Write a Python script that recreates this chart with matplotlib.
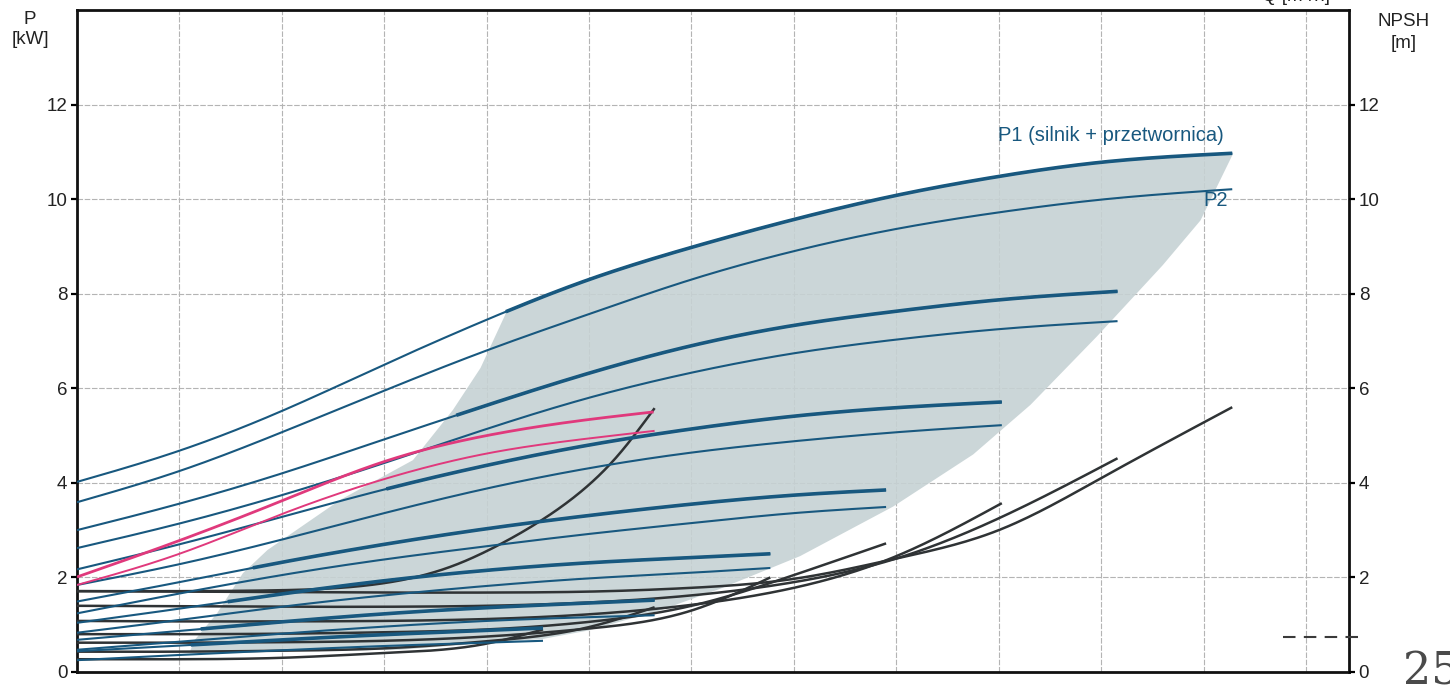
import numpy as np
import matplotlib
matplotlib.use("Agg")
import matplotlib.pyplot as plt
from matplotlib.patches import Polygon

plt.rcParams['font.family'] = ['Liberation Sans', 'DejaVu Sans']

# ---- power curves P1 / P2 [kW] for each speed step (flow in grid units) ----
q_p1_100 = [0, 1, 2, 3, 4, 5, 6, 7, 8, 9, 10, 11.28]
p1_100 = [4.02, 4.68, 5.52, 6.5, 7.45, 8.3, 8.98, 9.57, 10.08, 10.48, 10.78, 10.97]
q_p2_100 = [0, 1, 2, 3, 4, 5, 6, 7, 8, 9, 10, 11.28]
p2_100 = [3.59, 4.25, 5.07, 5.95, 6.8, 7.57, 8.3, 8.9, 9.37, 9.72, 9.99, 10.21]

q_p1_90 = [0, 1, 2, 3, 4, 5, 6, 7, 8, 9, 10.16]
p1_90 = [3.0, 3.56, 4.2, 4.92, 5.64, 6.32, 6.9, 7.33, 7.63, 7.87, 8.05]
q_p2_90 = [0, 1, 2, 3, 4, 5, 6, 7, 8, 9, 10.16]
p2_90 = [2.62, 3.14, 3.74, 4.42, 5.14, 5.8, 6.33, 6.74, 7.03, 7.25, 7.42]

q_p1_80 = [0, 1, 2, 3, 4, 5, 6, 7, 8, 9.03]
p1_80 = [2.17, 2.7, 3.28, 3.86, 4.37, 4.8, 5.14, 5.41, 5.59, 5.71]
q_p2_80 = [0, 1, 2, 3, 4, 5, 6, 7, 8, 9.03]
p2_80 = [1.84, 2.28, 2.8, 3.36, 3.88, 4.31, 4.64, 4.88, 5.07, 5.22]

q_p1_70 = [0, 1, 2, 3, 4, 5, 6, 7, 7.9]
p1_70 = [1.49, 1.9, 2.32, 2.7, 3.03, 3.31, 3.55, 3.74, 3.85]
q_p2_70 = [0, 1, 2, 3, 4, 5, 6, 7, 7.9]
p2_70 = [1.24, 1.66, 2.05, 2.38, 2.66, 2.92, 3.15, 3.36, 3.49]

q_p1_60 = [0, 1, 2, 3, 4, 5, 6, 6.77]
p1_60 = [1.04, 1.34, 1.65, 1.93, 2.15, 2.31, 2.42, 2.5]
q_p2_60 = [0, 1, 2, 3, 4, 5, 6, 6.77]
p2_60 = [0.83, 1.1, 1.38, 1.62, 1.82, 1.98, 2.1, 2.2]

q_p1_50 = [0, 1, 2, 3, 4, 5, 5.64]
p1_50 = [0.68, 0.87, 1.06, 1.23, 1.36, 1.46, 1.52]
q_p2_50 = [0, 1, 2, 3, 4, 5, 5.64]
p2_50 = [0.47, 0.64, 0.81, 0.96, 1.08, 1.16, 1.2]

q_p1_40 = [0, 1, 2, 3, 4, 4.55]
p1_40 = [0.44, 0.56, 0.68, 0.79, 0.88, 0.93]
q_p2_40 = [0, 1, 2, 3, 4, 4.55]
p2_40 = [0.25, 0.36, 0.46, 0.55, 0.62, 0.66]

# ---- reduced impeller (pink) ----
q_pink_p1 = [0, 1, 2, 3, 4, 5, 5.63]
pink_p1 = [2.01, 2.78, 3.62, 4.45, 5.0, 5.34, 5.5]
q_pink_p2 = [0, 1, 2, 3, 4, 5, 5.64]
pink_p2 = [1.84, 2.5, 3.34, 4.08, 4.62, 4.94, 5.1]

# ---- NPSH curves [m] ----
q_n_100 = [0, 1, 2, 3, 4, 5, 6, 7, 8, 9, 10, 11.28]
n_100 = [1.71, 1.70, 1.69, 1.68, 1.68, 1.7, 1.78, 1.97, 2.4, 3.0, 4.1, 5.6]
q_n_90 = [0, 1, 2, 3, 4, 5, 6, 7, 8, 9, 10.16]
n_90 = [1.40, 1.39, 1.38, 1.38, 1.4, 1.47, 1.62, 1.9, 2.4, 3.25, 4.52]
q_n_80 = [0, 1, 2, 3, 4, 5, 6, 7, 8, 9.03]
n_80 = [1.08, 1.07, 1.07, 1.08, 1.12, 1.22, 1.42, 1.78, 2.45, 3.57]
q_n_70 = [0, 1, 2, 3, 4, 5, 6, 7, 7.9]
n_70 = [0.80, 0.80, 0.81, 0.84, 0.9, 1.06, 1.4, 2.05, 2.72]
q_n_60 = [0, 1, 2, 3, 4, 5, 6, 6.77]
n_60 = [0.62, 0.62, 0.63, 0.66, 0.75, 0.92, 1.3, 2.0]
q_n_50 = [0, 1, 2, 3, 4, 5, 5.64]
n_50 = [0.43, 0.43, 0.45, 0.5, 0.65, 0.95, 1.37]
q_n_40 = [0, 1, 2, 3, 4, 4.55]
n_40 = [0.27, 0.27, 0.3, 0.4, 0.6, 0.9]
q_n_pink = [0, 1, 2, 2.5, 3, 3.64, 4.13, 4.62, 4.94, 5.27, 5.64]
n_pink = [1.71, 1.71, 1.73, 1.77, 1.88, 2.22, 2.7, 3.33, 3.85, 4.55, 5.58]

# ---- operating range: lower edge (right to left), then left edge (bottom to top) ----
q_range = [11.29, 10.97, 10.6, 9.96, 9.31, 8.75, 7.97, 7.06, 6.28, 5.69, 5.0, 4.55, 3.15,
           1.10, 1.15, 1.37, 1.62, 1.86, 2.57, 3.28, 3.67, 3.94, 4.18]
p_range = [10.97, 9.55, 8.6, 7.1, 5.65, 4.6, 3.5, 2.45, 1.76, 1.3, 0.88, 0.7, 0.47,
           0.42, 0.68, 1.25, 2.09, 2.58, 3.64, 4.48, 5.54, 6.43, 7.55]

# ---- stray dashed mark at the right edge ----
q_dash = [11.78, 12.52]
v_dash = [0.74, 0.74]

y_ticks = [0, 2, 4, 6, 8, 10, 12]


def spline(q, v, n=300):
    """Natural cubic spline through the read points."""
    q = np.asarray(q, float)
    v = np.asarray(v, float)
    k = len(q)
    h = np.diff(q)
    A = np.zeros((k, k))
    b = np.zeros(k)
    A[0, 0] = A[-1, -1] = 1.0
    for i in range(1, k - 1):
        A[i, i - 1] = h[i - 1]
        A[i, i] = 2 * (h[i - 1] + h[i])
        A[i, i + 1] = h[i]
        b[i] = 6 * ((v[i + 1] - v[i]) / h[i] - (v[i] - v[i - 1]) / h[i - 1])
    M = np.linalg.solve(A, b)
    x = np.linspace(q[0], q[-1], n)
    i = np.clip(np.searchsorted(q, x, side='right') - 1, 0, k - 2)
    hi = h[i]
    a = q[i + 1] - x
    c = x - q[i]
    y = (M[i] * a**3 + M[i + 1] * c**3) / (6 * hi) \
        + (v[i] / hi - M[i] * hi / 6) * a + (v[i + 1] / hi - M[i + 1] * hi / 6) * c
    return x, y


W, H = 1450, 686
fig = plt.figure(figsize=(W / 100, H / 100), dpi=100)
ax = fig.add_axes([77 / W, 14 / H, (1349 - 77) / W, (672 - 10) / H])
ax.set_xlim(0, 12.42)
ax.set_ylim(0, 14.0)

BLUE = '#18587f'
PINK = '#e0397c'
BLACK = '#2f3335'
SHADE = '#c6d2d4'
GRID = '#b4b4b4'

# grid
for gx in range(1, 13):
    ax.axvline(gx, color=GRID, lw=0.8, ls=(0, (5, 1.5)), zorder=0.5)
for gy in y_ticks[1:]:
    ax.axhline(gy, color=GRID, lw=0.8, ls=(0, (5, 1.5)), zorder=0.5)

# operating range: top edge follows P1 at full speed
xs, ys = spline(q_p1_100, p1_100)
top = xs >= q_range[-1]
poly_x = list(q_range) + list(xs[top])
poly_y = list(p_range) + list(ys[top])
ax.add_patch(Polygon(np.column_stack([poly_x, poly_y]), closed=True,
                     facecolor=SHADE, edgecolor='none', alpha=0.9, zorder=1))

# power curves (P1 drawn heavier inside the operating range)
p1_sets = [(q_p1_100, p1_100, 4.18), (q_p1_90, p1_90, 3.7), (q_p1_80, p1_80, 3.0),
           (q_p1_70, p1_70, 1.7), (q_p1_60, p1_60, 1.45), (q_p1_50, p1_50, 1.2),
           (q_p1_40, p1_40, 1.1)]
p2_sets = [(q_p2_100, p2_100), (q_p2_90, p2_90), (q_p2_80, p2_80), (q_p2_70, p2_70),
           (q_p2_60, p2_60), (q_p2_50, p2_50), (q_p2_40, p2_40)]

# NPSH curves
n_sets = [(q_n_100, n_100), (q_n_90, n_90), (q_n_80, n_80), (q_n_70, n_70),
          (q_n_60, n_60), (q_n_50, n_50), (q_n_40, n_40), (q_n_pink, n_pink)]
for q, v in n_sets:
    x, y = spline(q, v)
    ax.plot(x, y, color=BLACK, lw=1.8, solid_capstyle='butt', zorder=3)

for q, v in p2_sets:
    x, y = spline(q, v)
    ax.plot(x, y, color=BLUE, lw=1.5, solid_capstyle='butt', zorder=4)

for q, v, q_thick in p1_sets:
    x, y = spline(q, v)
    ax.plot(x, y, color=BLUE, lw=1.5, solid_capstyle='butt', zorder=4)
    k = x >= q_thick
    ax.plot(x[k], y[k], color=BLUE, lw=2.6, solid_capstyle='butt', zorder=4)

x, y = spline(q_pink_p1, pink_p1)
ax.plot(x, y, color=PINK, lw=2.0, solid_capstyle='butt', zorder=5)
x, y = spline(q_pink_p2, pink_p2)
ax.plot(x, y, color=PINK, lw=1.4, solid_capstyle='butt', zorder=5)

ax.plot(q_dash, v_dash, color='#3a3a3a', lw=1.5, ls=(0, (6, 4)), clip_on=False, zorder=6)

# curve labels
ax.text(8.99, 11.35, 'P1 (silnik + przetwornica)', color=BLUE, fontsize=14.5,
        ha='left', va='center', zorder=6)
ax.text(11.0, 9.98, 'P2', color=BLUE, fontsize=14.5, ha='left', va='center', zorder=6)

# axes styling
for s in ax.spines.values():
    s.set_linewidth(2.0)
    s.set_color('#111111')
ax.set_xticks(range(0, 13))
ax.tick_params(axis='x', length=0, labelbottom=False)
ax.set_yticks(y_ticks)
ax.tick_params(axis='y', direction='out', length=4, width=1.6, labelsize=13.5,
               labelcolor='#222222', pad=3)

ax2 = ax.twinx()
ax2.set_ylim(0, 14.0)
ax2.set_yticks(y_ticks)
ax2.tick_params(axis='y', direction='out', length=4, width=1.6, labelsize=13.5,
                labelcolor='#222222', pad=3)
for s in ax2.spines.values():
    s.set_visible(False)

# axis titles
fig.text(30 / W, 1 - 19 / H, 'P', ha='center', va='center', fontsize=13.5, color='#222222')
fig.text(30 / W, 1 - 40 / H, '[kW]', ha='center', va='center', fontsize=13.5, color='#222222')
fig.text(1404 / W, 1 - 22 / H, 'NPSH', ha='center', va='center', fontsize=13.5, color='#222222')
fig.text(1404 / W, 1 - 44 / H, '[m]', ha='center', va='center', fontsize=13.5, color='#222222')
fig.text(1262 / W, 1 - 5 / H, 'Q [m³/h]', ha='left', va='bottom', fontsize=13.5, color='#222222')
fig.text(1403 / W, 1 - 650 / H, '25', ha='left', va='top', fontsize=32,
         family='DejaVu Serif', color='#4a4a4a')

fig.savefig('out.png', dpi=100)
